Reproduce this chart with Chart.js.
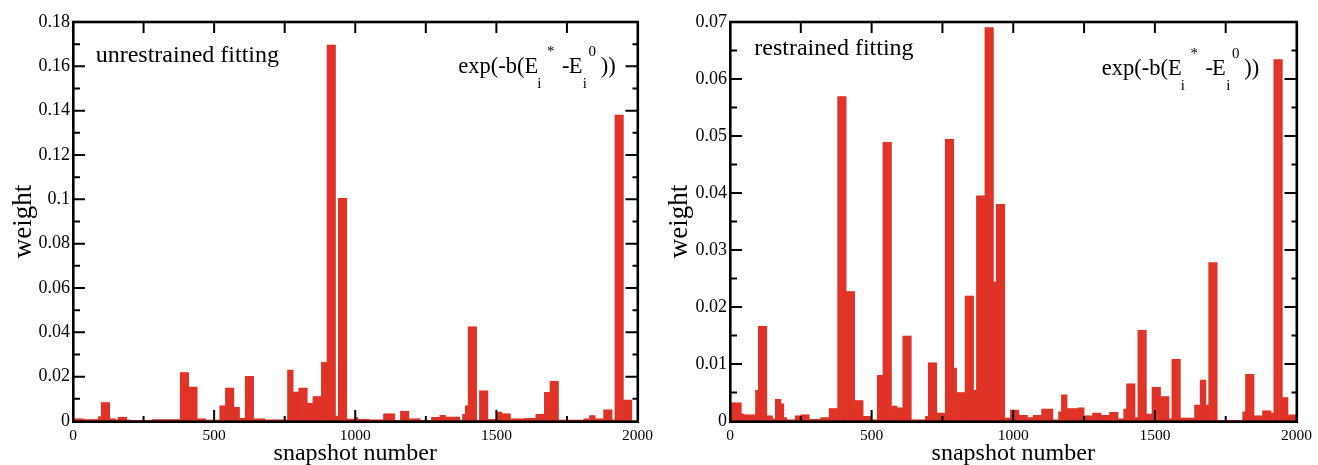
<!DOCTYPE html>
<html><head><meta charset="utf-8">
<script src="https://cdn.jsdelivr.net/npm/chart.js@4.4.1/dist/chart.umd.min.js"></script>
<style>
html,body{margin:0;padding:0;background:#fff;width:1318px;height:465px;overflow:hidden}
.panel{position:absolute;top:0;width:659px;height:465px}
canvas{display:block}
</style></head><body>
<div class="panel" style="left:0"><canvas id="c1" width="659" height="465"></canvas></div>
<div class="panel" style="left:659px"><canvas id="c2" width="659" height="465"></canvas></div>
<script>
// ---- data ----
const binWidth = 10; // snapshots per bar bin
const xTicks = [0, 500, 1000, 1500, 2000];
const leftYTicks = [0, 0.02, 0.04, 0.06, 0.08, 0.1, 0.12, 0.14, 0.16, 0.18];
const rightYTicks = [0, 0.01, 0.02, 0.03, 0.04, 0.05, 0.06, 0.07];
const xTitle = 'snapshot number';
const yTitle = 'weight';
const leftLabel = 'unrestrained fitting';
const rightLabel = 'restrained fitting';

// unrestrained fitting, one value per 10-snapshot bin (0..2000)
const leftWeights = [
  0.001,0.001,0.001,0.001,0.0006,0.0006,0.0006,0.0006,0.0006,0.002,0.0083,0.0083,0.0083,0.001,0.001,0.0005,0.0017,0.0017,0.0017,0.0005,
  0.0003,0.0003,0.0003,0.0003,0.0003,0.0003,0.0003,0.0003,0.0006,0.0006,0.0006,0.0006,0.0006,0.0006,0.0006,0.0006,0.0006,0.0006,0.0218,0.0218,
  0.0218,0.0153,0.0153,0.0153,0.001,0.001,0.001,0.0004,0.0004,0.0004,0.0004,0.0004,0.0068,0.0068,0.0148,0.0148,0.0148,0.0062,0.0062,0.0012,
  0.0012,0.0201,0.0201,0.0201,0.001,0.001,0.001,0.001,0.0005,0.0005,0.0005,0.0005,0.0005,0.0005,0.0005,0.0005,0.023,0.023,0.013,0.013,
  0.0148,0.0148,0.0148,0.008,0.008,0.011,0.011,0.011,0.0265,0.0265,0.1696,0.1696,0.1696,0.0022,0.1004,0.1004,0.1004,0.0009,0.0009,0.0009,
  0.0015,0.0008,0.0008,0.0008,0.0008,0.0005,0.0005,0.0005,0.0005,0.0005,0.0032,0.0032,0.0032,0.0032,0.0003,0.0003,0.0044,0.0044,0.0044,0.001,
  0.001,0.001,0.001,0.0003,0.0003,0.0003,0.0003,0.0017,0.0017,0.0017,0.0026,0.0026,0.0018,0.0018,0.0018,0.0018,0.0018,0.0003,0.003,0.0068,
  0.0425,0.0425,0.0425,0.0003,0.0136,0.0136,0.0136,0.0008,0.0008,0.0008,0.004,0.004,0.0032,0.0032,0.0032,0.001,0.001,0.001,0.001,0.001,
  0.0012,0.0012,0.0012,0.0012,0.003,0.003,0.003,0.0129,0.0129,0.0179,0.0179,0.0179,0.0004,0.0004,0.0004,0.0004,0.0004,0.0004,0.0004,0.0004,
  0.0004,0.001,0.001,0.0024,0.0024,0.001,0.001,0.001,0.005,0.005,0.005,0.0005,0.138,0.138,0.138,0.0094,0.0094,0.0094,0,0
];

// restrained fitting, one value per 10-snapshot bin (0..2000)
const rightWeights = [
  0.0032,0.0032,0.0032,0.0032,0.0012,0.0011,0.0011,0.0011,0.0011,0.0054,0.0166,0.0166,0.0166,0.0009,0.0009,0.0004,0.0038,0.0038,0.003,0.0006,
  0.0002,0.0002,0.0002,0.0009,0.0009,0.0011,0.0011,0.0011,0.0003,0.0003,0.0003,0.0003,0.0006,0.0006,0.0006,0.0022,0.0022,0.0022,0.0569,0.0569,
  0.0569,0.0227,0.0227,0.0227,0.0036,0.0036,0.0036,0.0008,0.0008,0.0008,0.0002,0.0002,0.008,0.008,0.0489,0.0489,0.0489,0.0026,0.0026,0.0023,
  0.0023,0.0149,0.0149,0.0149,0.0002,0.0002,0.0002,0.0002,0.0002,0.0008,0.0102,0.0102,0.0102,0.0014,0.0014,0.0014,0.0494,0.0494,0.0494,0.0093,
  0.005,0.005,0.005,0.0219,0.0219,0.0219,0.0054,0.0395,0.0395,0.0395,0.069,0.069,0.069,0.0244,0.038,0.038,0.038,0.0005,0.0005,0.0019,
  0.0019,0.0019,0.001,0.001,0.001,0.0006,0.0006,0.001,0.001,0.001,0.0021,0.0021,0.0021,0.0021,0.0002,0.0002,0.0016,0.0046,0.0046,0.0022,
  0.0022,0.0022,0.0022,0.0023,0.0023,0.0009,0.0009,0.0009,0.0014,0.0014,0.0014,0.001,0.001,0.001,0.0015,0.0015,0.0015,0.0004,0.0004,0.0021,
  0.0065,0.0065,0.0065,0.0006,0.0159,0.0159,0.0159,0.0012,0.0012,0.0059,0.0059,0.0059,0.0043,0.0043,0.0043,0.0004,0.0108,0.0108,0.0108,0.0005,
  0.0005,0.0005,0.0005,0.0005,0.0028,0.0028,0.0072,0.0072,0.0028,0.0278,0.0278,0.0278,0.0001,0.0001,0.0001,0.0001,0.0001,0.0001,0.0001,0.0001,
  0.0001,0.0016,0.0082,0.0082,0.0082,0.0009,0.0009,0.0009,0.0018,0.0018,0.0018,0.0014,0.0634,0.0634,0.0634,0.0041,0.0041,0.0011,0.0011,0.0011
];

// ---- styling ----
const SERIF = '"Liberation Serif","Times New Roman",Times,serif';
const RED = 'rgb(224,51,39)';

function annotPlugin(p) {
  return {
    id: 'annot',
    afterDraw(chart) {
      const ctx = chart.ctx, a = chart.chartArea, xs = chart.scales.x, ys = chart.scales.y;
      ctx.save();
      ctx.strokeStyle = '#000';
      ctx.fillStyle = '#000';
      // inward ticks
      ctx.lineWidth = 2;
      ctx.beginPath();
      for (let i = 0; i < xTicks.length; i++) {
        const v = xTicks[i];
        if (i > 0 && i < xTicks.length - 1) {
          const px = xs.getPixelForValue(v);
          ctx.moveTo(px, a.bottom); ctx.lineTo(px, a.bottom - 11);
          ctx.moveTo(px, a.top); ctx.lineTo(px, a.top + 11);
        }
        if (i < xTicks.length - 1) {
          const m = xs.getPixelForValue((v + xTicks[i + 1]) / 2);
          ctx.moveTo(m, a.bottom); ctx.lineTo(m, a.bottom - 5);
          ctx.moveTo(m, a.top); ctx.lineTo(m, a.top + 11);
        }
      }
      const yt = p.yTicks;
      for (let i = 0; i < yt.length; i++) {
        if (i > 0 && i < yt.length - 1) {
          const py = ys.getPixelForValue(yt[i]);
          ctx.moveTo(a.left, py); ctx.lineTo(a.left + 12, py);
          ctx.moveTo(a.right, py); ctx.lineTo(a.right - 12, py);
        }
        if (i < yt.length - 1) {
          const m = ys.getPixelForValue((yt[i] + yt[i + 1]) / 2);
          ctx.moveTo(a.left, m); ctx.lineTo(a.left + 7, m);
          ctx.moveTo(a.right, m); ctx.lineTo(a.right - 5, m);
        }
      }
      ctx.stroke();
      // frame
      ctx.lineWidth = 2.6;
      ctx.strokeRect(a.left + 0.3, a.top, a.right - a.left, a.bottom - a.top + 0.7);

      // axis titles
      ctx.font = '24px ' + SERIF;
      ctx.textAlign = 'center';
      ctx.textBaseline = 'alphabetic';
      ctx.fillText(xTitle, (a.left + a.right) / 2, 460);
      ctx.save();
      ctx.translate(p.yTitleX, (a.top + a.bottom) / 2);
      ctx.rotate(-Math.PI / 2);
      ctx.font = '27px ' + SERIF;
      ctx.fillText(yTitle, 0, 0);
      ctx.restore();

      // panel label
      ctx.textAlign = 'left';
      ctx.font = '24px ' + SERIF;
      ctx.fillText(p.label, p.labelX, p.labelY);

      // exp(-b(E_i^* - E_i^0))
      const x0 = p.expX, b = p.expY;
      const big = '22.5px ' + SERIF, small = '15px ' + SERIF;
      const parts = [
        ['exp(-b(E', 0, 0, big],
        ['i', 79, 14.7, small],
        ['*', 88.7, -17, small],
        ['-', 103.7, 0, big],
        ['E', 110.4, 0, big],
        ['i', 124.5, 14.7, small],
        ['0', 130.3, -17.5, small],
        ['))', 142.5, 0, big]
      ];
      for (const [t, dx, dy, f] of parts) {
        ctx.font = f;
        ctx.fillText(t, x0 + dx, b + dy);
      }
      ctx.restore();
    }
  };
}

function makeChart(id, weights, p) {
  const pts = weights.map((w, i) => ({ x: i * binWidth + binWidth / 2, y: w }));
  return new Chart(document.getElementById(id), {
    type: 'bar',
    data: { datasets: [{ data: pts, backgroundColor: RED, borderWidth: 0,
      barPercentage: 1, categoryPercentage: 1 }] },
    options: {
      responsive: false, animation: false,
      layout: { padding: { top: 22, right: p.padRight, left: 0, bottom: 0 } },
      plugins: { legend: { display: false }, tooltip: { enabled: false } },
      scales: {
        x: {
          type: 'linear', min: xTicks[0], max: xTicks[xTicks.length - 1], offset: false,
          grid: { display: false, drawTicks: false }, border: { display: false },
          ticks: { autoSkip: false, maxRotation: 0, padding: 6, color: '#000',
            font: { family: SERIF, size: 15.5 }, callback: v => String(v) },
          afterBuildTicks: s => { s.ticks = xTicks.map(v => ({ value: v })); },
          afterFit: s => { s.height = 44; }
        },
        y: {
          min: p.yTicks[0], max: p.yTicks[p.yTicks.length - 1],
          grid: { display: false, drawTicks: false }, border: { display: false },
          ticks: { padding: 3, color: '#000', font: { family: SERIF, size: 18 },
            callback: v => String(Number(Number(v).toFixed(3))) },
          afterBuildTicks: s => { s.ticks = p.yTicks.map(v => ({ value: v })); },
          afterFit: s => { s.width = p.yWidth; }
        }
      }
    },
    plugins: [annotPlugin(p)]
  });
}

makeChart('c1', leftWeights, {
  yTicks: leftYTicks, yWidth: 73, padRight: 14, yTitleX: 30.5,
  label: leftLabel, labelX: 95.7, labelY: 61.5, expX: 458.3, expY: 73.3
});
makeChart('c2', rightWeights, {
  yTicks: rightYTicks, yWidth: 71, padRight: 16, yTitleX: 27.5,
  label: rightLabel, labelX: 95.3, labelY: 55, expX: 442.7, expY: 75
});
</script>
</body></html>
